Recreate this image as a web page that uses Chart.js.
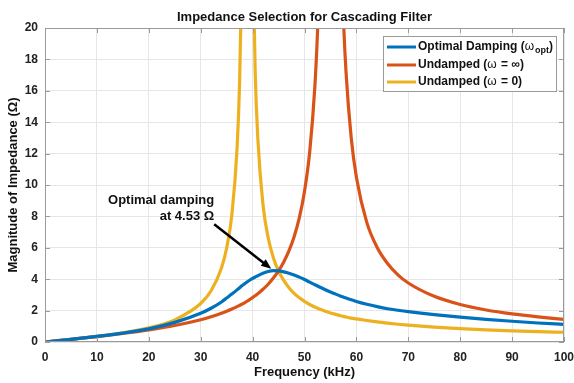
<!DOCTYPE html>
<html>
<head>
<meta charset="utf-8">
<script src="https://cdn.jsdelivr.net/npm/chart.js@4"></script>
<style>
  html, body { margin: 0; padding: 0; background: #fff; }
  #wrap { width: 574px; height: 383px; }
</style>
</head>
<body>
<div id="wrap"><canvas id="chart" width="574" height="383"></canvas></div>
<script>
// values
const freqKHz = [0, 5, 10, 15, 20, 25, 30, 32, 34, 35, 36, 37, 37.5, 38, 38.5, 39, 39.5, 40, 40.5, 41,
  42, 43, 44, 45, 46, 47, 48, 49, 50, 51, 52, 52.5, 53, 54, 55, 56, 57, 57.5, 58, 59,
  60, 62, 64, 66, 68, 70, 75, 80, 85, 90, 95, 100];

const optimalDamping = [0, 0.17, 0.36, 0.57, 0.84, 1.25, 1.83, 2.15, 2.55, 2.8, 3.05, 3.32, 3.46, 3.6, 3.72, 3.84, 3.95, 4.05, 4.14, 4.22,
  4.38, 4.49, 4.54, 4.53, 4.47, 4.38, 4.27, 4.13, 3.98, 3.81, 3.65, 3.57, 3.49, 3.33, 3.19, 3.05, 2.92, 2.86, 2.8, 2.69,
  2.58, 2.4, 2.25, 2.12, 2.02, 1.93, 1.74, 1.58, 1.44, 1.32, 1.21, 1.12];

const undampedInf = [0, 0.17, 0.34, 0.54, 0.77, 1.05, 1.42, 1.61, 1.83, 1.96, 2.1, 2.25, 2.33, 2.42, 2.51, 2.61, 2.72, 2.83, 2.95, 3.07,
  3.36, 3.68, 4.07, 4.53, 5.1, 5.8, 6.71, 7.91, 9.59, 12.1, 16.3, 19.7, 24.7, 50, 400, 51, 25.7, 20.6, 17.2, 13,
  10.5, 7.62, 6.02, 5.0, 4.28, 3.76, 2.91, 2.39, 2.04, 1.79, 1.6, 1.44];

const undampedZero = [0, 0.17, 0.36, 0.59, 0.9, 1.41, 2.45, 3.26, 4.72, 5.99, 8.1, 12.3, 16.6, 25, 50, 400, 51, 25.7, 17.2, 13,
  8.75, 6.64, 5.37, 4.52, 3.92, 3.46, 3.1, 2.82, 2.59, 2.39, 2.23, 2.15, 2.08, 1.96, 1.85, 1.76, 1.67, 1.63, 1.59, 1.52,
  1.47, 1.37, 1.28, 1.2, 1.13, 1.07, 0.95, 0.85, 0.77, 0.71, 0.66, 0.62];

const seriesNames = ['Optimal Damping', 'Undamped', 'Undamped'];
const seriesOmega = ['opt', '= \u221e', '= 0'];
const seriesColors = ['#0072BD', '#D95319', '#EDB120'];

const xRange = [0, 100];
const yRange = [0, 20];
const xStep = 10;
const yStep = 2;

// arrow from text to the crossing point (kHz, ohm)
const arrowFrom = [32.6, 7.5];
const arrowTo = [43.6, 4.66];
const noteLines = ['Optimal damping', 'at 4.53 \u03a9'];

const FONT = '"Liberation Sans", Arial, sans-serif';

function toPoints(ys) {
  return freqKHz.map((f, i) => ({ x: f, y: ys[i] }));
}

const decor = {
  id: 'decor',
  afterDraw(chart) {
    const ctx = chart.ctx;
    const { left, right, top, bottom } = chart.chartArea;
    const xs = chart.scales.x, ys = chart.scales.y;
    ctx.save();

    // box and inward ticks
    ctx.strokeStyle = '#9a9a9a';
    ctx.lineWidth = 1;
    ctx.strokeRect(left + 0.5, top + 0.5, right - left - 1, bottom - top - 1);
    ctx.beginPath();
    xs.ticks.forEach(t => {
      const px = Math.round(xs.getPixelForValue(t.value)) + 0.5;
      ctx.moveTo(px, bottom); ctx.lineTo(px, bottom - 5);
      ctx.moveTo(px, top); ctx.lineTo(px, top + 5);
    });
    ys.ticks.forEach(t => {
      const py = Math.round(ys.getPixelForValue(t.value)) + 0.5;
      ctx.moveTo(left, py); ctx.lineTo(left + 5, py);
      ctx.moveTo(right, py); ctx.lineTo(right - 5, py);
    });
    ctx.stroke();

    // title
    ctx.fillStyle = '#111';
    ctx.font = 'bold 13px ' + FONT;
    ctx.textAlign = 'center';
    ctx.textBaseline = 'middle';
    ctx.fillText('Impedance Selection for Cascading Filter', (left + right) / 2, 17);

    // arrow
    const x0 = xs.getPixelForValue(arrowFrom[0]), y0 = ys.getPixelForValue(arrowFrom[1]);
    const x1 = xs.getPixelForValue(arrowTo[0]), y1 = ys.getPixelForValue(arrowTo[1]);
    const ang = Math.atan2(y1 - y0, x1 - x0);
    const head = 11;
    ctx.strokeStyle = '#000';
    ctx.fillStyle = '#000';
    ctx.lineWidth = 2.5;
    ctx.beginPath();
    ctx.moveTo(x0, y0);
    ctx.lineTo(x1 - head * 0.8 * Math.cos(ang), y1 - head * 0.8 * Math.sin(ang));
    ctx.stroke();
    ctx.beginPath();
    ctx.moveTo(x1, y1);
    ctx.lineTo(x1 - head * Math.cos(ang - 0.38), y1 - head * Math.sin(ang - 0.38));
    ctx.lineTo(x1 - head * Math.cos(ang + 0.38), y1 - head * Math.sin(ang + 0.38));
    ctx.closePath();
    ctx.fill();

    // note text
    ctx.fillStyle = '#111';
    ctx.font = 'bold 13px ' + FONT;
    ctx.textAlign = 'right';
    ctx.fillText(noteLines[0], x0, y0 - 24);
    ctx.fillText(noteLines[1], x0, y0 - 8);

    // legend
    const lx = 383, ly = 36, lw = 173, lh = 55;
    ctx.fillStyle = '#fff';
    ctx.fillRect(lx, ly, lw, lh);
    ctx.strokeStyle = '#9a9a9a';
    ctx.lineWidth = 1;
    ctx.strokeRect(lx + 0.5, ly + 0.5, lw, lh);
    const rowY = [47, 65, 82];
    seriesNames.forEach((name, i) => {
      const y = rowY[i];
      ctx.strokeStyle = seriesColors[i];
      ctx.lineWidth = 3;
      ctx.beginPath();
      ctx.moveTo(387, y); ctx.lineTo(416, y);
      ctx.stroke();
      ctx.fillStyle = '#111';
      ctx.textAlign = 'left';
      ctx.textBaseline = 'middle';
      ctx.font = 'bold 12px ' + FONT;
      let x = 418;
      const head = name + ' (';
      ctx.fillText(head, x, y);
      x += ctx.measureText(head).width;
      ctx.font = '12px ' + FONT;
      ctx.fillText('\u03c9', x, y);
      x += ctx.measureText('\u03c9').width + 1;
      if (seriesOmega[i] === 'opt') {
        ctx.font = 'bold 9px ' + FONT;
        ctx.fillText('opt', x, y + 4);
        x += ctx.measureText('opt').width;
      } else {
        ctx.font = 'bold 12px ' + FONT;
        ctx.fillText(' ' + seriesOmega[i], x, y);
        x += ctx.measureText(' ' + seriesOmega[i]).width;
      }
      ctx.font = 'bold 12px ' + FONT;
      ctx.fillText(')', x, y);
    });

    ctx.restore();
  }
};

const lineStyle = (label, ys, color) => ({
  label,
  data: toPoints(ys),
  borderColor: color,
  backgroundColor: color,
  borderWidth: 3.2,
  pointRadius: 0,
  cubicInterpolationMode: 'monotone',
  fill: false
});

new Chart(document.getElementById('chart'), {
  type: 'line',
  data: {
    datasets: [
      lineStyle('Optimal Damping', optimalDamping, seriesColors[0]),
      lineStyle('Undamped (inf)', undampedInf, seriesColors[1]),
      lineStyle('Undamped (0)', undampedZero, seriesColors[2])
    ]
  },
  options: {
    responsive: false,
    animation: false,
    layout: { padding: { top: 28, right: 10, left: 0, bottom: 0 } },
    plugins: { legend: { display: false }, tooltip: { enabled: false } },
    scales: {
      x: {
        type: 'linear',
        min: xRange[0], max: xRange[1],
        ticks: { stepSize: xStep, color: '#222', font: { family: FONT, size: 12, weight: 'bold' }, padding: 8, maxRotation: 0 },
        grid: { color: '#e6e6e6', drawTicks: false },
        border: { display: false },
        title: { display: true, text: 'Frequency (kHz)', color: '#111', font: { family: FONT, size: 13, weight: 'bold' }, padding: { top: 0, bottom: 3 } },
        afterFit: s => { s.height = 41; s.paddingLeft = 0; s.paddingRight = 0; }
      },
      y: {
        min: yRange[0], max: yRange[1],
        ticks: { stepSize: yStep, color: '#222', font: { family: FONT, size: 12, weight: 'bold' }, padding: 7 },
        grid: { color: '#e6e6e6', drawTicks: false },
        border: { display: false },
        title: { display: true, text: 'Magnitude of Impedance (\u03a9)', color: '#111', font: { family: FONT, size: 13, weight: 'bold' }, padding: { top: 6, bottom: 0 } },
        afterFit: s => { s.width = 45; s.paddingTop = 0; s.paddingBottom = 0; }
      }
    }
  },
  plugins: [decor]
});
</script>
</body>
</html>
